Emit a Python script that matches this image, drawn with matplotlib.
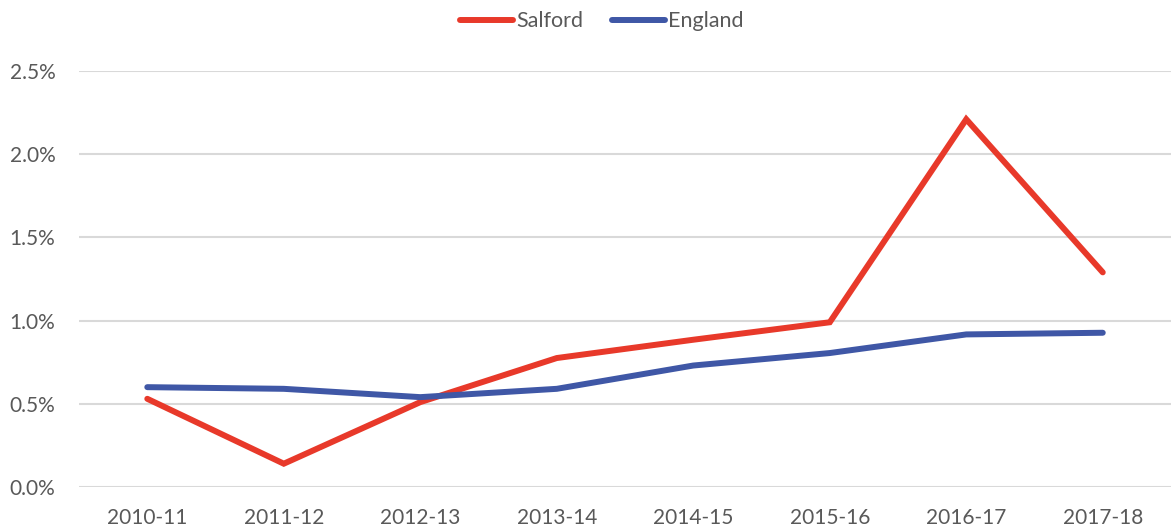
import matplotlib.pyplot as plt
from matplotlib.ticker import FuncFormatter

years = ["2010-11", "2011-12", "2012-13", "2013-14", "2014-15", "2015-16", "2016-17", "2017-18"]
salford = [0.53, 0.14, 0.51, 0.775, 0.885, 0.99, 2.21, 1.29]
england = [0.60, 0.59, 0.54, 0.59, 0.73, 0.805, 0.917, 0.927]

plt.rcParams['font.family'] = ['Lato', 'DejaVu Sans']

fig = plt.figure(figsize=(11.71, 5.32), dpi=100)
ax = fig.add_axes([0.0675, 0.0846, 0.9325, 0.7819])

x = range(len(years))
ax.plot(x, salford, color='#E8392A', lw=4.3, solid_capstyle='round', solid_joinstyle='miter', label='Salford', zorder=3)
ax.plot(x, england, color='#3F57A6', lw=4.3, solid_capstyle='round', solid_joinstyle='miter', label='England', zorder=3)

ax.set_xlim(-0.5, len(years) - 0.5)
ax.set_ylim(0, 2.5)
ax.set_yticks([0, 0.5, 1.0, 1.5, 2.0, 2.5])
ax.yaxis.set_major_formatter(FuncFormatter(lambda v, p: f"{v:.1f}%"))
ax.set_xticks(list(x))
ax.set_xticklabels(years)
ax.grid(axis='y', color='#D9D9D9', lw=1.5)
ax.set_axisbelow(True)
for s in ax.spines.values():
    s.set_visible(False)
ax.tick_params(length=0, labelsize=15, labelcolor='#595959')
ax.tick_params(axis='x', pad=15)
ax.tick_params(axis='y', pad=17)

leg = fig.legend(loc='upper center', bbox_to_anchor=(0.514, 1.015), ncol=2, frameon=False,
                 fontsize=15.5, handlelength=2.45, handletextpad=0.15, columnspacing=1.35)
for t in leg.get_texts():
    t.set_color('#595959')

fig.savefig('out.png', dpi=100)
